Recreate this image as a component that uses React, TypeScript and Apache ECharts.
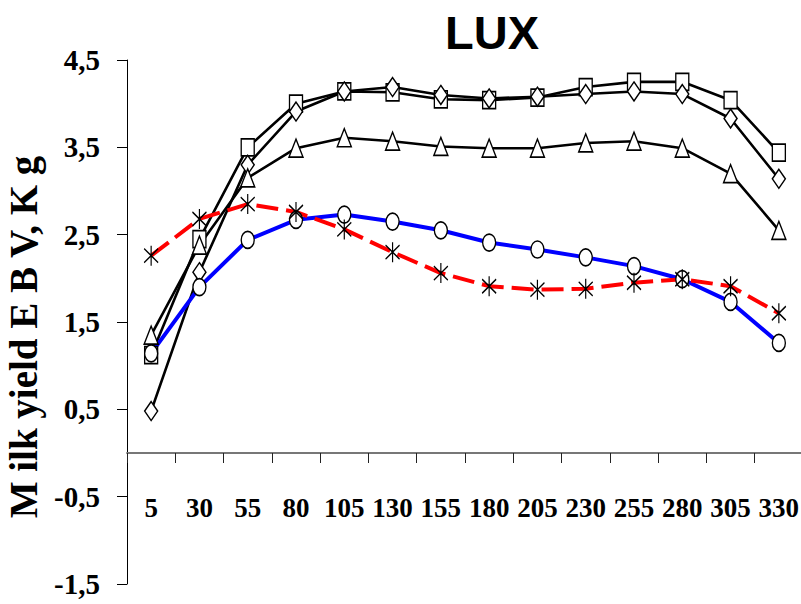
import React, { useEffect, useRef } from "react";
import * as echarts from "echarts";

// Days in milk (x axis categories)
const days = ["5", "30", "55", "80", "105", "130", "155", "180", "205", "230", "255", "280", "305", "330"];

// Milk yield EBV (kg) per curve
const squareValues = [1.12, 2.45, 3.5, 4.0, 4.14, 4.13, 4.05, 4.04, 4.07, 4.19, 4.25, 4.25, 4.04, 3.44];
const diamondValues = [0.48, 2.07, 3.3, 3.91, 4.14, 4.19, 4.1, 4.06, 4.08, 4.11, 4.14, 4.11, 3.83, 3.14];
const triangleValues = [1.35, 2.38, 3.15, 3.49, 3.61, 3.57, 3.51, 3.49, 3.49, 3.55, 3.57, 3.49, 3.2, 2.55];
const circleValues = [1.14, 1.9, 2.44, 2.67, 2.73, 2.65, 2.55, 2.41, 2.33, 2.24, 2.14, 1.99, 1.73, 1.26];
const asteriskValues = [2.26, 2.68, 2.85, 2.76, 2.56, 2.3, 2.06, 1.91, 1.87, 1.88, 1.95, 1.99, 1.91, 1.6];

// Y axis tick labels
const yTicks = [-1.5, -0.5, 0.5, 1.5, 2.5, 3.5, 4.5];

const ELLIPSE = "path://M0,-10 A7,10 0 1,1 0,10 A7,10 0 1,1 0,-10 Z";
const ASTERISK = "path://M7,0 L7,20 M0,3 L14,17 M0,17 L14,3";

const serif = "'Liberation Serif', 'Times New Roman', serif";

const markerStyle = { color: "#fff", borderColor: "#000", borderWidth: 1.5 };

function blackCurve(name: string, data: number[], symbol: string, size: number[]) {
  return {
    name,
    type: "line",
    data,
    symbol,
    symbolSize: size,
    showAllSymbol: true,
    lineStyle: { color: "#000", width: 2.6 },
    itemStyle: markerStyle,
  };
}

export default function App() {
  const ref = useRef<HTMLDivElement>(null);

  useEffect(() => {
    if (!ref.current) return;
    const chart = echarts.init(ref.current, null, { renderer: "svg" });
    chart.setOption({
      animation: false,
      backgroundColor: "#fff",
      title: {
        text: "LUX",
        left: 440,
        top: 4,
        textStyle: {
          fontFamily: "'Liberation Sans', Arial, sans-serif",
          fontWeight: "bold",
          fontSize: 47,
          color: "#000",
        },
      },
      grid: {
        left: 127,
        right: -2,
        top: 60,
        bottom: 20,
        containLabel: false,
        outerBoundsMode: "none",
      },
      xAxis: {
        type: "category",
        data: days,
        boundaryGap: true,
        axisLine: { onZero: true, lineStyle: { color: "#777", width: 1.8 } },
        axisTick: { show: true, length: 10, lineStyle: { color: "#222", width: 1 } },
        axisLabel: {
          interval: 0,
          // labels sit under the zero line, measured from the grid's bottom edge
          margin: -90,
          fontFamily: serif,
          fontWeight: "bold",
          fontSize: 27,
          color: "#000",
        },
        splitLine: { show: false },
      },
      yAxis: {
        type: "value",
        min: -1.5,
        max: 4.5,
        name: "M ilk yield E B V, K g",
        nameLocation: "middle",
        nameGap: 77,
        nameTextStyle: {
          fontFamily: serif,
          fontWeight: "bold",
          fontSize: 39,
          color: "#000",
          padding: [0, 30, 0, 0],
        },
        axisLine: { show: true, lineStyle: { color: "#000", width: 1 } },
        axisTick: { show: true, length: 10, customValues: yTicks, lineStyle: { color: "#000", width: 1 } },
        axisLabel: {
          customValues: yTicks,
          margin: 27,
          fontFamily: serif,
          fontWeight: "bold",
          fontSize: 29,
          color: "#000",
          formatter: (v: number) => String(v).replace(".", ","),
        },
        splitLine: { show: false },
      },
      series: [
        blackCurve("Square", squareValues, "rect", [13, 17]),
        blackCurve("Diamond", diamondValues, "diamond", [13, 19]),
        blackCurve("Triangle", triangleValues, "triangle", [14, 18]),
        {
          name: "Circle",
          type: "line",
          data: circleValues,
          symbol: ELLIPSE,
          symbolSize: [13, 17],
          showAllSymbol: true,
          lineStyle: { color: "#0000ff", width: 4 },
          itemStyle: markerStyle,
        },
        {
          name: "Asterisk",
          type: "line",
          data: asteriskValues,
          symbol: ASTERISK,
          symbolSize: [14, 20],
          showAllSymbol: true,
          lineStyle: { color: "#ff0000", width: 4, type: [22, 8] },
          itemStyle: { color: "rgba(0,0,0,0)", borderColor: "#000", borderWidth: 1.4 },
        },
      ],
    });
    return () => chart.dispose();
  }, []);

  return (
    <div
      ref={ref}
      style={{ position: "absolute", left: 0, top: 0, width: 801, height: 604 }}
    />
  );
}
